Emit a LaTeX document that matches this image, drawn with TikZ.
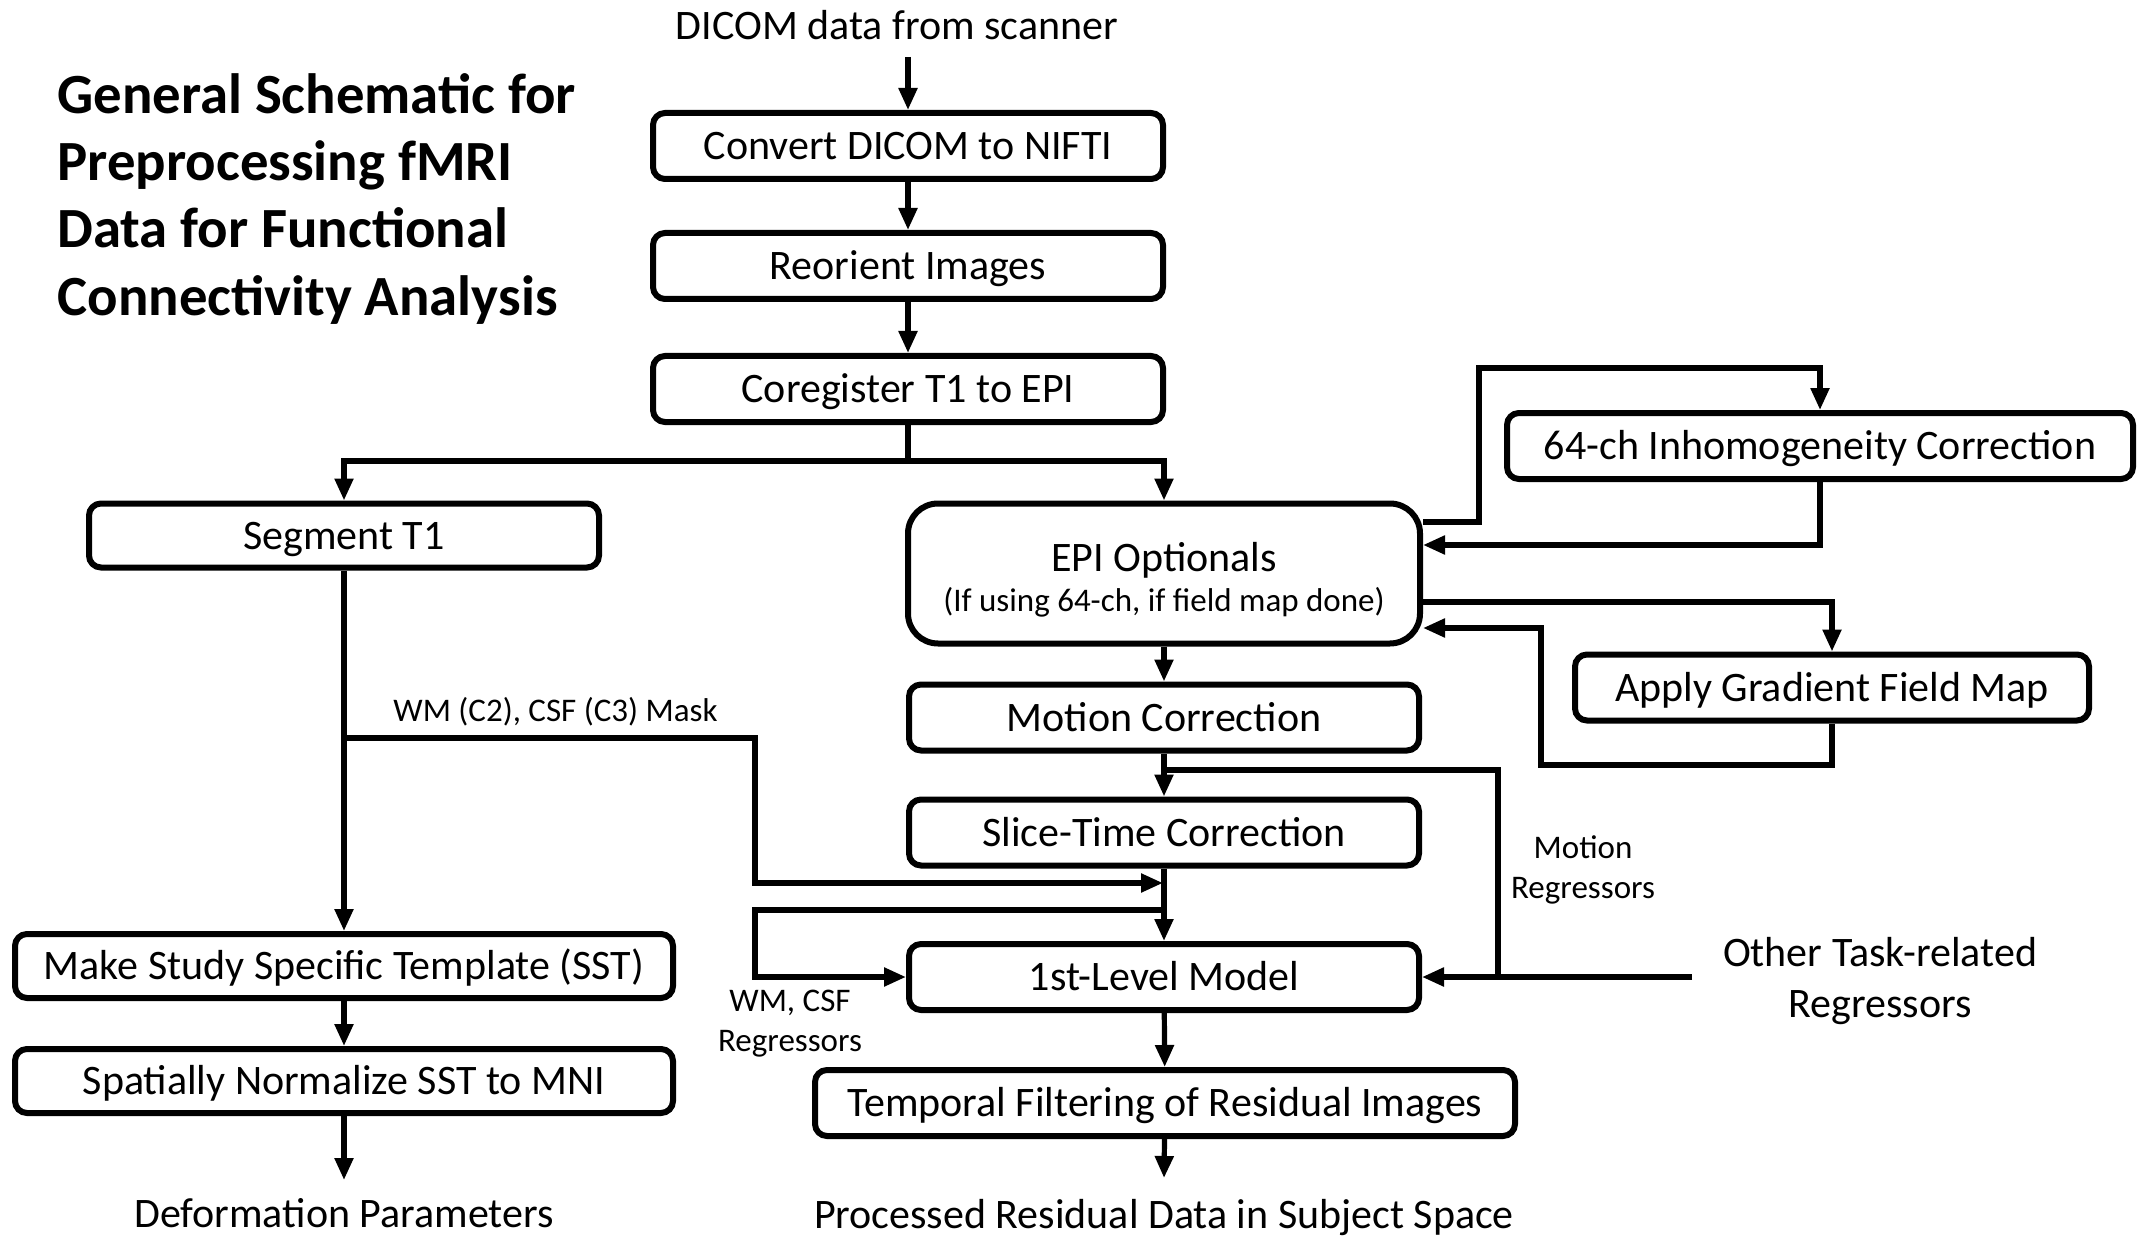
\documentclass[tikz,border=0pt]{standalone}
\usepackage{fontspec}
\setmainfont{Carlito}
\usetikzlibrary{arrows.meta}
\newcommand\fmain{\fontsize{21}{25}\selectfont}
\newcommand\fsmall{\fontsize{16.5}{20}\selectfont}
\newcommand\ftitle{\fontsize{28.4}{33}\selectfont\bfseries}
\begin{document}
\begin{tikzpicture}[x=0.5pt,y=-0.5pt,
  box/.style={draw, line width=3pt, rounded corners=6pt, minimum width=#1,
    minimum height=33pt, inner sep=0pt, font=\fmain, text height=13.5pt, text depth=0pt},
  ln/.style={line width=2.6pt},
  arr/.style={line width=2.6pt, -{Triangle[length=11pt,width=9pt]}},
  txt/.style={inner sep=0pt, font=\fmain},
  stxt/.style={inner sep=0pt, font=\fsmall},
  ttl/.style={inner sep=0pt, font=\ftitle, anchor=base west}]
\useasboundingbox (0,0) rectangle (2148,1246);

% title
\node[ttl] (t1) at (57,114) {General Schematic for};
\node[ttl] (t2) at (57,181) {Preprocessing fMRI};
\node[ttl] (t3) at (57,248) {Data for Functional};
\node[ttl] (t4) at (57,315) {Connectivity Analysis};

% boxes
\node[box=255pt] (conv) at (908,146) {Convert DICOM to NIFTI};
\node[box=255pt] (reor) at (908,266) {Reorient Images};
\node[box=255pt] (coreg) at (908,389) {Coregister T1 to EPI};
\node[box=255pt, minimum height=32pt] (seg) at (344,535.5) {Segment T1};
\node[box=256pt, minimum height=70pt, rounded corners=15pt] (epi) at (1164,573.5) {};
\node[txt, anchor=base] (epit1) at (1164,571) {EPI Optionals};
\node[stxt, anchor=base] (epit2) at (1164,611) {(If using 64-ch, if field map done)};
\node[box=313pt] (inh) at (1820,446) {64-ch Inhomogeneity Correction};
\node[box=257pt] (grad) at (1832,687.5) {Apply Gradient Field Map};
\node[box=255pt] (mot) at (1164,717.5) {Motion Correction};
\node[box=255pt] (slice) at (1164,832.5) {Slice-Time Correction};
\node[box=255pt] (first) at (1164,977) {1st-Level Model};
\node[box=350pt] (temp) at (1165,1103) {Temporal Filtering of Residual Images};
\node[box=329pt, minimum height=32pt] (sst) at (344,966) {Make Study Specific Template (SST)};
\node[box=329pt, minimum height=32pt] (norm) at (344,1081) {Spatially Normalize SST to MNI};

% free texts
\node[txt, anchor=base] (dicom) at (897,40) {DICOM data from scanner};
\node[txt, anchor=base] (defo) at (344,1227) {Deformation Parameters};
\node[txt, anchor=base] (proc) at (1164,1228) {Processed Residual Data in Subject Space};
\node[txt, anchor=base] (oth1) at (1880,966) {Other Task-related};
\node[txt, anchor=base] (oth2) at (1880,1017) {Regressors};
\node[stxt, anchor=base west] (mask) at (393,721) {WM (C2), CSF (C3) Mask};
\node[stxt, anchor=base] (wm1) at (790,1011) {WM, CSF};
\node[stxt, anchor=base] (wm2) at (790,1051) {Regressors};
\node[stxt, anchor=base] (mr1) at (1583,858) {Motion};
\node[stxt, anchor=base] (mr2) at (1583,898) {Regressors};

% coordinates
\coordinate (a0) at (908,57);
\coordinate (j1) at (908,461);
\coordinate (b1) at (1479,522);
\coordinate (b1t) at (1479,368);
\coordinate (b2) at (0,545);
\coordinate (b3) at (0,602);
\coordinate (b4) at (1541,765);
\coordinate (b5) at (0,628);
\coordinate (m1) at (1164,770);
\coordinate (m2) at (1498,770);
\coordinate (ot) at (1692,977);
\coordinate (k1) at (344,738);
\coordinate (k2) at (755,738);
\coordinate (k3) at (1163,883);
\coordinate (w1) at (1164,910);
\coordinate (w2) at (755,910);
\coordinate (d1) at (344,1180);
\coordinate (p1) at (1164,1178);

% connectors
\draw[arr] (a0) -- (conv.north);
\draw[arr] (conv) -- (reor);
\draw[arr] (reor) -- (coreg);
\draw[ln] (coreg.south) -- (j1);
\draw[arr] (j1) -| (seg.north);
\draw[arr] (j1) -| (epi.north);
\draw[arr] (epi.east |- b1) -- (b1) -- (b1t) -| (inh.north);
\draw[arr] (inh.south) |- (epi.east |- b2);
\draw[arr] (epi.east |- b3) -| (grad.north);
\draw[arr] (grad.south) |- (b4) |- (epi.east |- b5);
\draw[arr] (epi) -- (mot);
\draw[arr] (mot) -- (slice);
\draw[ln] (m1) -- (m2) -- (m2 |- first.east);
\draw[arr] (ot) -- (first.east);
\draw[arr] (slice) -- (first);
\draw[arr] (seg) -- (sst);
\draw[arr] (k1) -- (k2) |- (k3);
\draw[arr] (w1) -- (w2) |- (first.west);
\draw[arr] (sst) -- (norm);
\draw[arr] (norm) -- (d1);
\draw[arr] (first) -- (temp);
\draw[arr] (temp) -- (p1);
\end{tikzpicture}
\end{document}
